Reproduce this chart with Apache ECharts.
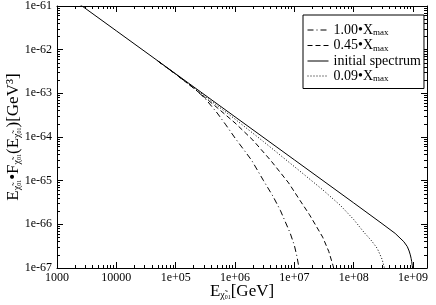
<!DOCTYPE html>
<html><head><meta charset="utf-8">
<script src="https://cdn.jsdelivr.net/npm/echarts@6/dist/echarts.min.js"></script>
<style>html,body{margin:0;padding:0;background:#fff}#c{width:436px;height:305px}</style>
</head><body><div id="c"></div>
<script>
// ---- data ----
const X_TICK_LABELS = ['1000', '10000', '1e+05', '1e+06', '1e+07', '1e+08', '1e+09'];
const Y_TICK_LABELS = ['1e-67', '1e-66', '1e-65', '1e-64', '1e-63', '1e-62', '1e-61'];
const X_MIN = 1e3, X_MAX = 1.72e9, Y_MIN = 1e-67, Y_MAX = 1e-61;

const SERIES_NAMES = ['1.00·Xmax', '0.45·Xmax', 'initial spectrum', '0.09·Xmax'];

const initialE = [1e3, 1e4, 1e5, 1e6, 1e7, 1e8, 3e8, 5e8, 7e8, 8e8, 8.6e8, 9e8, 9.3e8, 9.5e8, 9.7e8, 9.85e8, 1e9];
const initialF = [2.6e-61, 2.7e-62, 2.8e-63, 2.9e-64, 3.0e-65, 3.1e-66, 1.04e-66, 6.2e-67, 4.0e-67, 3.1e-67, 2.45e-67, 2.0e-67, 1.65e-67, 1.4e-67, 1.15e-67, 9.5e-68, 7e-68];

const x009E = [5e4, 1e5, 3e5, 1e6, 3e6, 1e7, 3e7, 6e7, 1e8, 1.5e8, 2e8, 2.5e8, 3e8, 3.3e8, 3.6e8];
const x009F = [5.5e-63, 2.75e-63, 8.9e-64, 2.57e-64, 7.9e-65, 2.1e-65, 6.2e-66, 2.7e-66, 1.29e-66, 6.5e-67, 4.2e-67, 2.8e-67, 1.6e-67, 1.0e-67, 6e-68];

const x045E = [5e4, 1e5, 2e5, 5e5, 1e6, 2e6, 4e6, 8e6, 1.25e7, 1.8e7, 3e7, 3.8e7, 4.5e7, 5e7];
const x045F = [5.5e-63, 2.75e-63, 1.32e-63, 4.7e-64, 2.1e-64, 8.5e-65, 2.9e-65, 8.9e-66, 3.5e-66, 1.66e-66, 5.1e-67, 2.4e-67, 1.12e-67, 6.3e-68];

const x100E = [5e4, 1e5, 2.2e5, 3.2e5, 5e5, 7e5, 1e6, 1.9e6, 3e6, 4.4e6, 5.8e6, 8.5e6, 1e7, 1.1e7, 1.2e7, 1.3e7];
const x100F = [5.5e-63, 2.75e-63, 1.2e-63, 7.4e-64, 3.55e-64, 1.9e-64, 9.5e-65, 2.95e-65, 1.02e-65, 4.3e-66, 2.1e-66, 6.3e-67, 3.3e-67, 1.9e-67, 1.0e-67, 5e-68];

// ---- helpers ----
const FONT = "'Liberation Serif', 'DejaVu Serif', serif";
const zip = (a, b) => a.map((v, i) => [v, b[i]]);
const lg = Math.log10;
const XL = [lg(X_MIN), lg(X_MAX)], YL = [lg(Y_MIN), lg(Y_MAX)];
function majorExps(lo, hi) { const o = []; for (let d = Math.ceil(lo - 1e-9); d <= hi + 1e-9; d++) o.push(d); return o; }
function minorExps(lo, hi) {
  const out = [];
  for (let d = Math.floor(lo); d < Math.ceil(hi); d++)
    for (let k = 2; k <= 9; k++) { const e = d + lg(k); if (e > lo && e < hi) out.push(e); }
  return out;
}
const xMajor = majorExps(XL[0], XL[1]), yMajor = majorExps(YL[0], YL[1]);
const xMinor = minorExps(XL[0], XL[1]), yMinor = minorExps(YL[0], YL[1]);

const subStyle = (fs, pad) => ({ fontFamily: FONT, fontSize: fs, color: '#000', verticalAlign: 'bottom', padding: [pad, 0, 0, 0] });
const mainStyle = fs => ({ fontFamily: FONT, fontSize: fs, color: '#000' });
const NAME_RICH = { m: mainStyle(17), s: subStyle(10, 7), u: subStyle(6, 6), t: subStyle(6, 11) };

const LEGEND_RICH = {
  '1.00·Xmax': '{m|1.00•X}{s|max}',
  '0.45·Xmax': '{m|0.45•X}{s|max}',
  'initial spectrum': '{m|initial spectrum}',
  '0.09·Xmax': '{m|0.09•X}{s|max}'
};
const chiSub = '{s|χ\u0303}{u|0}{t|1}';

// data axes (log scale, carry the series; drawn invisibly)
const dataAxis = (isX) => ({
  type: 'log', logBase: 10, min: isX ? X_MIN : Y_MIN, max: isX ? X_MAX : Y_MAX,
  position: isX ? 'bottom' : 'left',
  axisLine: { show: false }, axisTick: { show: false }, axisLabel: { show: false },
  splitLine: { show: false }, minorTick: { show: false }
});
// tick axes in decade (exponent) space, same extent as the log axes
const tickAxis = (pos, isX, major, labels) => ({
  type: 'value', position: pos,
  min: isX ? XL[0] : YL[0], max: isX ? XL[1] : YL[1],
  axisLine: { show: major, lineStyle: { color: '#000', width: 1 } },
  axisTick: { show: true, inside: true, length: major ? 6 : 3, lineStyle: { color: '#000' },
    customValues: major ? (isX ? xMajor : yMajor) : (isX ? xMinor : yMinor) },
  axisLabel: labels ? {
    show: true, color: '#000', fontFamily: FONT, fontSize: 12, margin: isX ? 4 : 5,
    customValues: isX ? xMajor : yMajor,
    formatter: v => { const e = Math.round(v); return isX ? X_TICK_LABELS[e - 3] : Y_TICK_LABELS[e + 67]; }
  } : { show: false },
  splitLine: { show: false }, minorTick: { show: false }
});

const xb = tickAxis('bottom', true, true, true);
Object.assign(xb, {
  name: '{m|E}' + chiSub + '{m|[GeV]}', nameLocation: 'middle', nameGap: 15, nameMoveOverlap: false,
  nameTextStyle: { fontFamily: FONT, fontSize: 17, color: '#000', rich: NAME_RICH }
});
const yl = tickAxis('left', false, true, true);
Object.assign(yl, {
  name: '{m|E}' + chiSub + '{m|•F}' + chiSub + '{m|(E}' + chiSub + '{m|)[GeV³]}',
  nameLocation: 'middle', nameGap: 35, nameRotate: 90, nameMoveOverlap: false,
  nameTextStyle: { fontFamily: FONT, fontSize: 17, color: '#000', rich: NAME_RICH }
});

const lineSeries = (name, E, F, dash) => ({
  name, type: 'line', xAxisIndex: 0, yAxisIndex: 0, data: zip(E, F),
  symbol: 'none', smooth: false, clip: true,
  lineStyle: { color: '#000', width: 1, type: dash }, itemStyle: { color: '#000' },
  emphasis: { disabled: true }, animation: false
});

const chart = echarts.init(document.getElementById('c'), null, { renderer: 'canvas' });
chart.setOption({
  animation: false,
  backgroundColor: '#fff',
  grid: { left: 57, right: 9, top: 6, bottom: 37, containLabel: false, outerBoundsMode: 'none' },
  xAxis: [dataAxis(true), xb, tickAxis('bottom', true, false, false), tickAxis('top', true, true, false), tickAxis('top', true, false, false)],
  yAxis: [dataAxis(false), yl, tickAxis('left', false, false, false), tickAxis('right', false, true, false), tickAxis('right', false, false, false)],
  legend: {
    orient: 'vertical', left: 303, top: 15, data: SERIES_NAMES,
    backgroundColor: '#fff', borderColor: '#000', borderWidth: 1, borderRadius: 0,
    padding: [8, 3, 5, 4], itemGap: 1, itemWidth: 21, itemHeight: 12,
    itemStyle: { color: 'rgba(0,0,0,0)', borderWidth: 0 },
    lineStyle: { width: 1 },
    formatter: n => LEGEND_RICH[n],
    textStyle: { fontFamily: FONT, fontSize: 14, color: '#000', rich: { m: mainStyle(14), s: subStyle(9, 6) } },
    selectedMode: false
  },
  series: [
    lineSeries(SERIES_NAMES[0], x100E, x100F, [6, 3, 1, 3]),
    lineSeries(SERIES_NAMES[1], x045E, x045F, [5, 3]),
    lineSeries(SERIES_NAMES[2], initialE, initialF, 'solid'),
    lineSeries(SERIES_NAMES[3], x009E, x009F, [1, 2])
  ]
});
</script></body></html>
